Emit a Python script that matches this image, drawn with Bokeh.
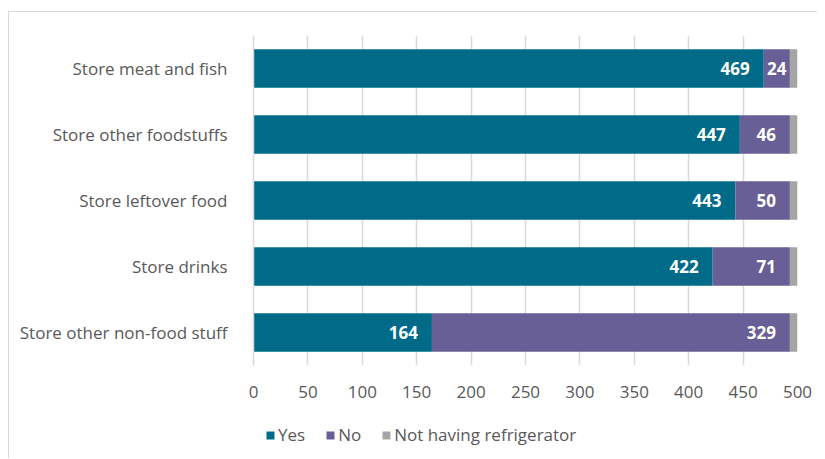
from bokeh.plotting import figure
from bokeh.layouts import column
from bokeh.models import ColumnDataSource, Legend, LegendItem, FixedTicker
from bokeh.core.properties import value
from bokeh.embed import file_html
from bokeh.resources import INLINE

categories = ["Store meat and fish", "Store other foodstuffs", "Store leftover food",
              "Store drinks", "Store other non-food stuff"]
yes_vals = [469, 447, 443, 422, 164]
no_vals = [24, 46, 50, 71, 329]
nofridge_vals = [7, 7, 7, 7, 7]
series = ["Yes", "No", "Not having refrigerator"]
colors = ["#006B89", "#675F95", "#A5A5A5"]
x_ticks = [0, 50, 100, 150, 200, 250, 300, 350, 400, 450, 500]

FONT = "Open Sans"
FS = "17px"

src = ColumnDataSource(dict(cat=categories, Yes=yes_vals, No=no_vals, NF=nofridge_vals))

p = figure(width=808, height=398, output_backend="svg", toolbar_location=None,
           y_range=list(reversed(categories)), x_range=(0, 500),
           min_border_left=244, min_border_right=20, min_border_top=23, min_border_bottom=45)
p.outline_line_color = None
p.background_fill_color = "white"

r = p.hbar_stack(["Yes", "No", "NF"], y="cat", height=0.58, color=colors, source=src, line_color=None)

# grid
p.ygrid.grid_line_color = None
p.xgrid.grid_line_color = "#D9D9D9"
p.xgrid.grid_line_width = 1.5
p.xgrid.ticker = FixedTicker(ticks=x_ticks)

# axes
p.xaxis.ticker = FixedTicker(ticks=x_ticks)
p.xaxis.axis_line_color = None
p.xaxis.major_tick_line_color = None
p.xaxis.minor_tick_line_color = None
p.xaxis.major_label_text_font = FONT
p.xaxis.major_label_text_font_size = FS
p.xaxis.major_label_text_color = "#595959"
p.xaxis.major_label_standoff = 14

p.yaxis.axis_line_color = "#D9D9D9"
p.yaxis.axis_line_width = 1.5
p.yaxis.major_tick_line_color = None
p.yaxis.minor_tick_line_color = None
p.yaxis.major_label_text_font = FONT
p.yaxis.major_label_text_font_size = FS
p.yaxis.major_label_text_color = "#595959"
p.yaxis.major_label_standoff = 20

# data labels
SCALE = 544 / 500.0
lx_r, ly_r, lt_r = [], [], []
lx_c, ly_c, lt_c = [], [], []
for c, y, n in zip(categories, yes_vals, no_vals):
    lx_r.append(y); ly_r.append(c); lt_r.append(str(y))
    if n * SCALE < 45:
        lx_c.append(y + n / 2.0); ly_c.append(c); lt_c.append(str(n))
    else:
        lx_r.append(y + n); ly_r.append(c); lt_r.append(str(n))

src_r = ColumnDataSource(dict(x=lx_r, y=ly_r, t=lt_r))
src_c = ColumnDataSource(dict(x=lx_c, y=ly_c, t=lt_c))
p.text(x="x", y="y", text="t", source=src_r, text_align="right", text_baseline="middle", x_offset=-14,
       text_color="white", text_font=value(FONT), text_font_style="bold", text_font_size=FS)
p.text(x="x", y="y", text="t", source=src_c, text_align="center", text_baseline="middle",
       text_color="white", text_font=value(FONT), text_font_style="bold", text_font_size=FS)

# legend in a strip below (zero-height bars there, only the legend shows)
lf = figure(width=808, height=48, output_backend="svg", toolbar_location=None,
            x_range=(0, 500), y_range=list(categories), x_axis_type=None, y_axis_type=None,
            min_border_left=244, min_border_right=20, min_border_top=0, min_border_bottom=0)
lf.outline_line_color = None
lf.grid.visible = False
lr = lf.hbar_stack(["Yes", "No", "NF"], y="cat", height=0, color=colors, source=src, line_color=None)
legend = Legend(items=[LegendItem(label=s, renderers=[d]) for s, d in zip(series, lr)],
                orientation="horizontal", location=(12, 12),
                label_text_font=FONT, label_text_font_size=FS, label_text_color="#595959",
                glyph_width=10, glyph_height=10, spacing=20, label_standoff=3,
                border_line_color=None, background_fill_alpha=0, padding=0, margin=0)
lf.add_layout(legend, "center")

lay = column(p, lf, spacing=0)
lay.styles = {"margin-left": "8px", "margin-top": "11px",
              "border-left": "1px solid #D9D9D9", "border-top": "1px solid #D9D9D9"}

open("out.html", "w").write(file_html(lay, INLINE))
